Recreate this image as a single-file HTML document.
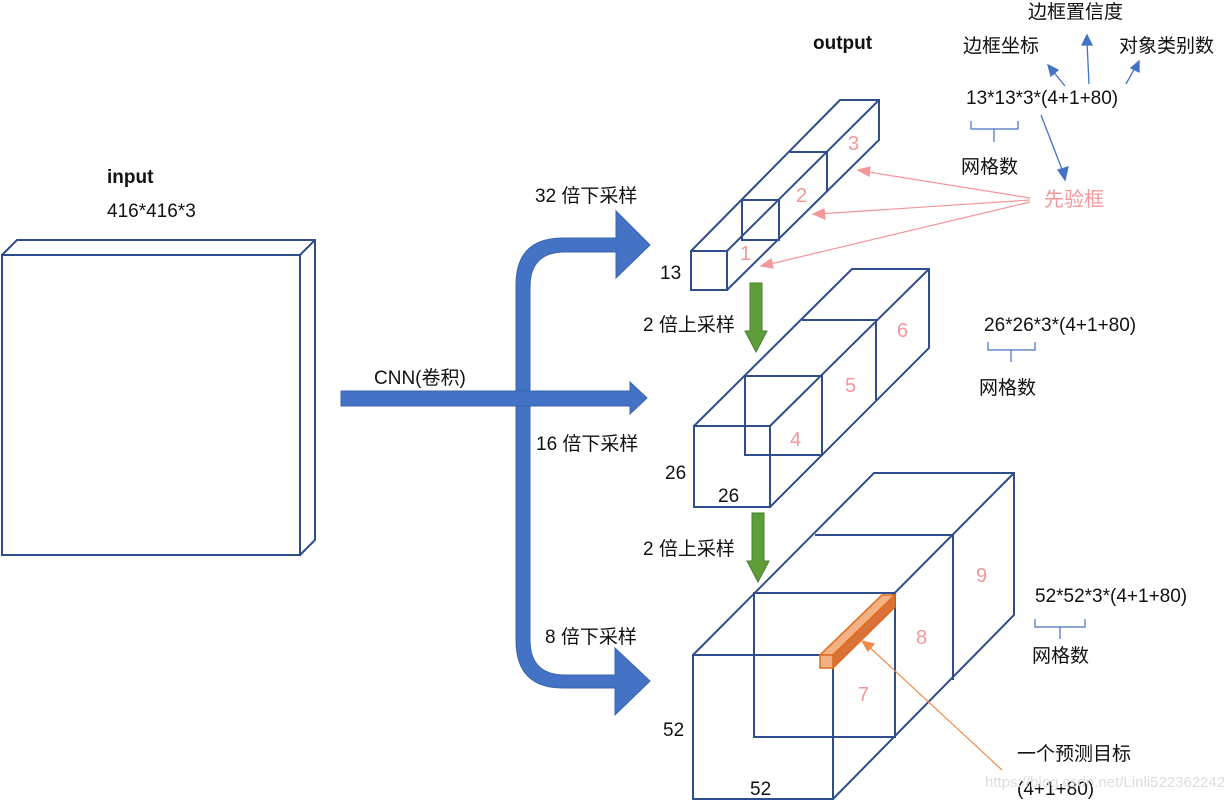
<!DOCTYPE html>
<html><head><meta charset="utf-8"><style>
body{margin:0;background:#fff}
svg text{font-family:"Liberation Sans","Noto Sans CJK SC",sans-serif;font-size:19px;fill:#111}
.p{fill:#f4979a;font-size:20px}
</style></head><body>
<svg width="1230" height="801" xmlns="http://www.w3.org/2000/svg">
<g fill="none" stroke="#2f4d8c" stroke-width="2">
<rect x="2" y="255" width="298" height="300"/>
<polyline points="2,255 17,240 315,240 315,540 300,555"/><line x1="300" y1="255" x2="315" y2="240"/>
<rect x="691" y="251" width="36" height="39"/>
<polyline points="691,251 840,100 879,100 879,140 727,290"/><line x1="727" y1="251" x2="879" y2="100"/>
<rect x="742" y="200" width="37" height="40"/>
<polyline points="790,152 827,152 827,192"/>
<rect x="694" y="426" width="76" height="81"/>
<polyline points="694,426 852,269 929,269 929,348 770,507"/><line x1="770" y1="426" x2="929" y2="269"/>
<rect x="745" y="376" width="77" height="79"/>
<polyline points="802,320 876,320 876,400"/>
<rect x="693" y="655" width="140" height="144"/>
<polyline points="693,655 874,473 1014,473 1014,615 833,799"/><line x1="833" y1="655" x2="1014" y2="473"/>
<rect x="754" y="593" width="141" height="144"/>
<polyline points="815,535 953,535 953,680"/>
</g>
<polygon points="820,655 882,595 895,595 833,655" fill="#f4b183" stroke="#e06a1b" stroke-width="1.5"/>
<polygon points="833,655 895,595 895,607 833,668" fill="#d9733a" stroke="#e06a1b" stroke-width="1.5"/>
<rect x="820" y="655" width="13" height="13" fill="#f4b183" stroke="#e06a1b" stroke-width="1.5"/>
<g fill="#4472c4" stroke="#3b64b0" stroke-width="1">
<path d="M516,500 L516,285 Q516,238 563,238 L616,238 L616,211 L650,245 L616,278 L616,252 L565,252 Q530,252 530,287 L530,500 Z"/>
<path d="M516,400 L516,640 Q516,688 563,688 L615,688 L615,715 L650,681 L615,648 L615,675 L565,675 Q530,675 530,640 L530,400 Z"/>
<path d="M341,391 L630,391 L630,382 L647,398 L630,414 L630,406 L341,406 Z"/>
</g>
<g fill="#5e9e3a" stroke="#4a7f2c">
<path d="M750,283 L762,283 L762,331 L767,331 L756,352 L745,331 L750,331 Z"/>
<path d="M752,513 L764,513 L764,561 L769,561 L758,582 L747,561 L752,561 Z"/>
</g>
<g stroke="#f4979a" stroke-width="1.2" fill="#f4979a">
<line x1="1030" y1="198" x2="862" y2="171"/><polygon points="858,170 870,167 869,176"/>
<line x1="1030" y1="200" x2="818" y2="214"/><polygon points="813,214 824,209 825,219"/>
<line x1="1030" y1="202" x2="766" y2="265"/><polygon points="761,266 771,259 773,268"/>
</g>
<g stroke="#f08a4b" stroke-width="1.2" fill="#f08a4b">
<line x1="1002" y1="770" x2="866" y2="644"/><polygon points="862,641 874,644 868,651"/>
</g>
<g stroke="#4472c4" stroke-width="1.3" fill="#4472c4">
<line x1="1065" y1="86" x2="1052" y2="70"/><polygon points="1048,65 1058,70 1051,76"/>
<line x1="1089" y1="84" x2="1087" y2="42"/><polygon points="1087,35 1092,45 1082,45"/>
<line x1="1126" y1="84" x2="1136" y2="66"/><polygon points="1139,61 1139,72 1131,68"/>
<line x1="1041" y1="115" x2="1063" y2="172"/><polygon points="1065,180 1058,170 1068,167"/>
</g>
<g fill="none" stroke="#4472c4" stroke-width="1.2">
<path d="M971,121 v8 h47 v-8 M994,129 v13"/>
<path d="M988,342 v8 h47 v-8 M1011,350 v12"/>
<path d="M1035,619 v8 h50 v-8 M1060,627 v12"/>
</g>
<text x="107" y="183" style="font-weight:bold">input</text>
<text x="107" y="217">416*416*3</text>
<text x="813" y="49" style="font-weight:bold">output</text>
<text x="374" y="384">CNN(卷积)</text>
<text x="535" y="202">32 倍下采样</text>
<text x="536" y="450">16 倍下采样</text>
<text x="545" y="643">8 倍下采样</text>
<text x="643" y="331">2 倍上采样</text>
<text x="643" y="555">2 倍上采样</text>
<text x="660" y="279">13</text>
<text x="665" y="479">26</text>
<text x="718" y="502">26</text>
<text x="663" y="736">52</text>
<text x="750" y="795">52</text>
<text class="p" x="848" y="150">3</text>
<text class="p" x="796" y="202">2</text>
<text class="p" x="740" y="260">1</text>
<text class="p" x="897" y="337">6</text>
<text class="p" x="845" y="392">5</text>
<text class="p" x="790" y="446">4</text>
<text class="p" x="976" y="582">9</text>
<text class="p" x="916" y="644">8</text>
<text class="p" x="858" y="701">7</text>
<text x="1028" y="18">边框置信度</text>
<text x="963" y="52">边框坐标</text>
<text x="1119" y="52">对象类别数</text>
<text x="966" y="104">13*13*3*(4+1+80)</text>
<text x="961" y="173">网格数</text>
<text class="p" x="1044" y="206">先验框</text>
<text x="984" y="331">26*26*3*(4+1+80)</text>
<text x="979" y="394">网格数</text>
<text x="1035" y="602">52*52*3*(4+1+80)</text>
<text x="1032" y="662">网格数</text>
<text x="1017" y="760">一个预测目标</text>
<text x="1017" y="795">(4+1+80)</text>
<text x="985" y="787" style="font-size:15px;fill:#ddd">https://blog.csdn.net/Linli522362242</text>
</svg>
</body></html>
